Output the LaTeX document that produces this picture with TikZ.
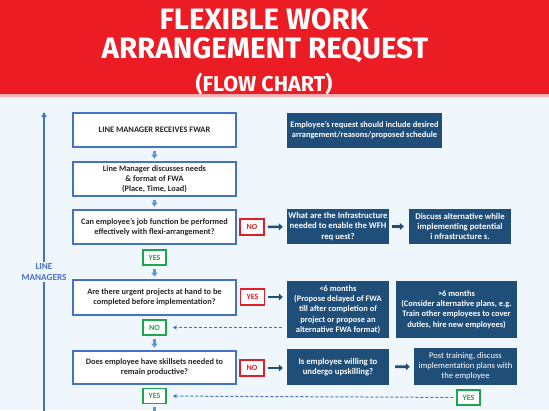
\documentclass[tikz,border=0pt]{standalone}
\usepackage{fontspec}
\setmainfont{Carlito}
\newfontfamily\titlefont{Fira Sans}
\usetikzlibrary{arrows.meta,calc}
\definecolor{bandred}{RGB}{236,28,36}
\definecolor{bgblue}{RGB}{240,247,252}
\definecolor{boxline}{RGB}{68,114,196}
\definecolor{darkbox}{RGB}{31,78,121}
\definecolor{lightarrow}{RGB}{91,155,213}
\definecolor{nored}{RGB}{224,32,40}
\definecolor{yesgreen}{RGB}{30,165,80}
\definecolor{dashblue}{RGB}{68,114,196}
\tikzset{
  whitebox/.style={draw=boxline,line width=1.6pt,fill=white,minimum width=163pt,align=center,font=\bfseries\fontsize{8.3}{10}\selectfont,text=black!85,inner sep=2pt},
  bluebox/.style={fill=darkbox,align=center,font=\bfseries\fontsize{8.7}{10.2}\selectfont,text=white,inner sep=1pt},
  nobox/.style={draw=nored,line width=1.5pt,fill=white,minimum width=24pt,minimum height=16pt,font=\bfseries\fontsize{8}{9}\selectfont,text=nored,inner sep=1pt},
  yesbox/.style={draw=yesgreen,line width=1.5pt,fill=white,minimum width=23pt,minimum height=15pt,font=\bfseries\fontsize{8}{9}\selectfont,text=yesgreen,inner sep=1pt},
  downarrow/.style={draw=lightarrow,line width=2.2pt,-{Triangle[length=4pt,width=6pt]},shorten <=3pt,shorten >=2.5pt},
  rightarrow/.style={draw=darkbox,line width=2.6pt,-{Triangle[length=4pt,width=7pt]},shorten <=3pt,shorten >=4pt},
  dasharrow/.style={draw=dashblue,line width=1pt,dash pattern=on 3pt off 2pt,-{Stealth[length=4pt,width=4pt]},shorten >=6pt},
}
\begin{document}
\begin{tikzpicture}[x=1pt,y=-1pt]
\useasboundingbox (0,0) rectangle (549,410);
\fill[bgblue] (0,0) rectangle (549,410);
\fill[bandred!35] (0,93) rectangle (549,97);
\fill[bandred] (0,0) rectangle (549,94);
\node[text=white,font=\titlefont\bfseries\fontsize{29.5}{32}\selectfont] (t1) at (264,19) {FLEXIBLE WORK};
\node[text=white,font=\titlefont\bfseries\fontsize{29.5}{32}\selectfont] (t2) at (265,50) {ARRANGEMENT REQUEST};
\node[text=white,font=\titlefont\bfseries\fontsize{21.5}{24}\selectfont] (t3) at (264,84) {(FLOW CHART)};

% left line
\coordinate (ltop) at (44,112);
\coordinate (lbot) at (44,412);
\draw[draw=boxline,line width=1.6pt,-{Triangle[length=5pt,width=5pt]}] (lbot) -- (ltop);
\node[fill=bgblue,text=boxline,align=center,font=\bfseries\fontsize{9.2}{10.5}\selectfont,inner sep=2pt] (lm) at (44,272) {LINE\\MANAGERS};

% main column
\node[whitebox,minimum height=34pt,font=\bfseries\fontsize{8.4}{9}\selectfont] (b1) at (154.5,130) {LINE MANAGER RECEIVES FWAR};
\node[whitebox,minimum height=34pt] (b2) at (154.5,179) {Line Manager discusses needs\\\& format of FWA\\(Place, Time, Load)};
\node[whitebox,minimum height=34pt] (b3) at (154.5,227) {Can employee's job function be performed\\effectively with flexi-arrangement?};
\node[whitebox,minimum height=35pt] (b4) at (154.5,297.5) {Are there urgent projects at hand to be\\completed before implementation?};
\node[whitebox,minimum height=33pt] (b5) at (154.5,367.5) {Does employee have skillsets needed to\\remain productive?};

% right boxes
\node[bluebox,minimum width=155pt,minimum height=35pt,font=\bfseries\fontsize{8.4}{10.2}\selectfont] (req) at (364.5,130.5) {Employee's request should include desired\\arrangement/reasons/proposed schedule};
\node[bluebox,minimum width=102pt,minimum height=35pt] (infra) at (338,226.5) {What are the Infrastructure\\needed to enable the WFH\\req uest?};
\node[bluebox,minimum width=102pt,minimum height=35pt] (disc) at (460,226.5) {Discuss alternative while\\implementing potential\\i nfrastructure s.};
\node[bluebox,minimum width=102pt,minimum height=57pt,font=\bfseries\fontsize{8.4}{10.2}\selectfont] (lt6) at (338,309.5) {<6 months\\(Propose delayed of FWA\\till after completion of\\project or propose an\\alternative FWA format)};
\node[bluebox,minimum width=121pt,minimum height=57pt,font=\bfseries\fontsize{8.4}{10.2}\selectfont] (gt6) at (456.5,309.5) {>6 months\\(Consider alternative plans, e.g.\\Train other employees to cover\\duties, hire new employees)};
\node[bluebox,minimum width=102pt,minimum height=36pt] (will) at (338,367) {Is employee willing to\\undergo upskilling?};
\node[bluebox,minimum width=103pt,minimum height=37pt,font=\fontsize{8.6}{10.2}\selectfont] (post) at (465.5,366.5) {Post training, discuss\\implementation plans with\\the employee};

% labels
\node[nobox] (no1) at (252,227) {NO};
\node[nobox] (yesr) at (252.5,297) {YES};
\node[nobox] (no2) at (252,368) {NO};
\node[yesbox] (yes1) at (154.5,257.5) {YES};
\node[yesbox] (nog) at (154.5,327.5) {NO};
\node[yesbox] (yes2) at (154.5,396) {YES};
\node[yesbox] (yes3) at (468.5,397.5) {YES};

% vertical arrows
\draw[downarrow] (b1) -- (b2);
\draw[downarrow] (b2) -- (b3);
\draw[downarrow] (yes1) -- (b4);
\draw[downarrow] (nog) -- (b5);
\coordinate (bot) at (154.5,416);
\draw[draw=lightarrow,line width=2.2pt,shorten <=3pt] (yes2) -- (bot);

% right arrows
\draw[rightarrow] (no1) -- (infra);
\draw[rightarrow,shorten <=3pt,shorten >=5pt] (infra) -- (disc);
\draw[rightarrow] (yesr) -- (yesr -| lt6.west);
\draw[rightarrow] (no2) -- (no2 -| will.west);
\draw[rightarrow,shorten <=6pt,shorten >=4pt] (will) -- (post);

% dashed returns
\draw[dasharrow,shorten <=5pt] (nog -| lt6.west) -- (nog);
\draw[dasharrow,shorten <=3pt] (yes3) -- (yes2);
\end{tikzpicture}
\end{document}
